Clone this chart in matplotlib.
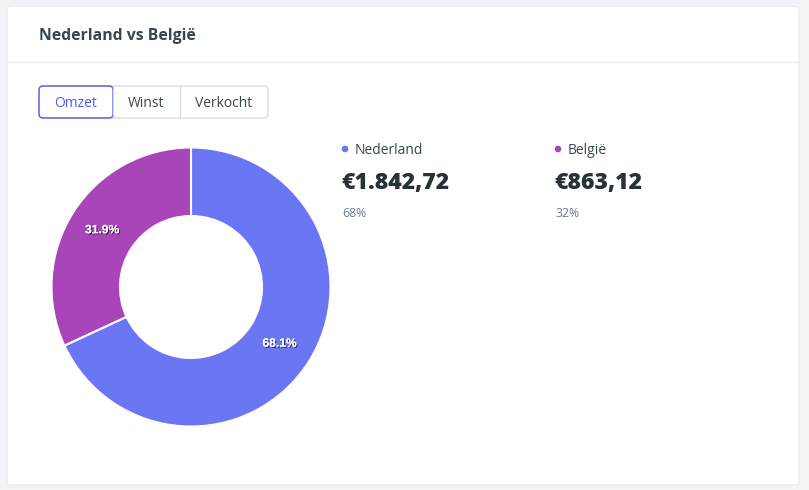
import matplotlib.pyplot as plt
import matplotlib.patheffects as pe
from matplotlib.patches import FancyBboxPatch, Circle

plt.rcParams['font.family'] = ['Open Sans', 'DejaVu Sans']

title = "Nederland vs België"
tabs = ["Omzet", "Winst", "Verkocht"]
countries = ["Nederland", "België"]
amounts = [1842.72, 863.12]
amount_labels = ["€1.842,72", "€863,12"]
share_labels = ["68%", "32%"]
colors = ["#6a76f3", "#a846b9"]

W, H = 809, 490
fig = plt.figure(figsize=(W / 100, H / 100), dpi=100)
fig.patch.set_facecolor("#f3f3f7")

# full-figure canvas in pixel coordinates
bg = fig.add_axes([0, 0, 1, 1])
bg.set_xlim(0, W)
bg.set_ylim(H, 0)
bg.axis("off")

card = FancyBboxPatch((7, 6), 792, 479, boxstyle="round,pad=0,rounding_size=4",
                      fc="white", ec="#e9e9ef", lw=0.8)
bg.add_patch(card)
bg.plot([7, 799], [62, 62], color="#ececf1", lw=1)
bg.text(39, 35.5, title, fontsize=11.3, fontweight="bold", color="#37474f", va="center")

# tab buttons
edges = [39, 113, 180, 268]
grp = FancyBboxPatch((39, 86), 229, 32, boxstyle="round,pad=0,rounding_size=4",
                     fc="white", ec="#d7dae0", lw=0.9)
bg.add_patch(grp)
for i, t in enumerate(tabs):
    x0, x1 = edges[i], edges[i + 1]
    if i > 0:
        bg.plot([x0, x0], [86, 118], color="#d7dae0", lw=0.9)
    bg.text((x0 + x1) / 2, 103.3, t, fontsize=10, ha="center", va="center",
            color="#4b5cf0" if i == 0 else "#37474f")
active = FancyBboxPatch((39, 86), 74, 32, boxstyle="round,pad=0,rounding_size=4",
                        fc="none", ec="#4b5cf0", lw=1.0)
bg.add_patch(active)

# legend / values
for i, (c, a, s) in enumerate(zip(countries, amount_labels, share_labels)):
    x = 342 + i * 213
    bg.add_patch(Circle((x + 3, 149), 2.6, color=colors[i]))
    bg.text(x + 13, 150.3, c, fontsize=10, color="#37474f", va="center")
    bg.text(x - 1, 183, a, fontsize=16.6, fontweight="heavy", color="#263238", va="center")
    bg.text(x, 213, s, fontsize=8.8, color="#6b7f8e", va="center")

# donut
cx, cy, r = 191, 287, 140
ax = fig.add_axes([(cx - r) / W, (H - cy - r) / H, 2 * r / W, 2 * r / H])
wedges, _, autotexts = ax.pie(amounts, colors=colors, startangle=90, counterclock=False,
                              radius=139.5 / 140, autopct="%.1f%%", pctdistance=0.755,
                              wedgeprops=dict(width=68.5 / 140, edgecolor="white", linewidth=1.5),
                              textprops=dict(color="white", fontsize=8.7, fontweight="bold",
                                             family=["Liberation Sans", "DejaVu Sans"]))
for t in autotexts:
    t.set_path_effects([pe.withSimplePatchShadow(offset=(0.8, -0.8), shadow_rgbFace="black", alpha=0.6),
                        pe.Normal()])
ax.set_xlim(-1, 1)
ax.set_ylim(-1, 1)
ax.set_aspect("equal")

fig.savefig("out.png", dpi=100, facecolor=fig.get_facecolor())
